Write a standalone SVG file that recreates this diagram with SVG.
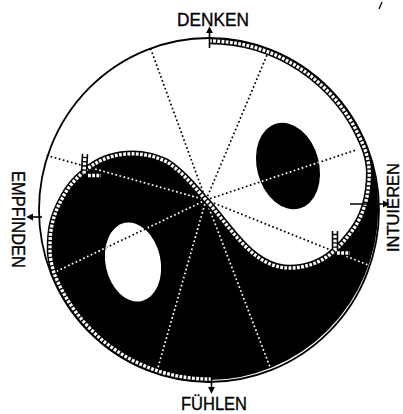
<svg xmlns="http://www.w3.org/2000/svg" xmlns:xlink="http://www.w3.org/1999/xlink" width="403" height="414" viewBox="0 0 403 414">
<style>
.lbl{font-family:"Liberation Sans","DejaVu Sans",sans-serif;font-size:18.5px;fill:#000;stroke:#000;stroke-width:0.35}
.dotb{stroke:#000;stroke-width:1.7;stroke-dasharray:1.7 2.5;fill:none}
.dotw{stroke:#fff;stroke-width:1.7;stroke-dasharray:1.7 2.5;fill:none}
.stripO{fill:none;stroke:#000;stroke-width:6.5}
.stripI{fill:none;stroke:#fff;stroke-width:3.4;stroke-dasharray:2.8 1.4}
.arr{stroke:#000;stroke-width:1.6;fill:none}
</style>
<defs>
<marker id="ah" viewBox="0 0 10 10" refX="2" refY="5" markerWidth="4.5" markerHeight="4.5" orient="auto" markerUnits="strokeWidth">
<path d="M0,0 L10,5 L0,10 Z" fill="#000"/>
</marker>
<path id="blackPath" d="M365.6,143 A170,172 0 1 1 50.8,273 L54,273 C52,266 50,258 50,250 C50,242 50,234 52,225 C54,215 58,206 63,197 C68,187 76,178 85,171 C95,162 110,155 127,154 C141,153 155,156 167,162 C181,171 193,185 205,199 C218,213 230,231 245,246 C258,259 272,268 290,268 C306,268 322,262 333,252 C340,246 346,239 352,231 C362,218 368,200 369,180 C370,168 368,155 362.3,143 Z"/>
<path id="spiral" d="M209,41 A167,169 0 0 1 362.3,143 C368,155 370,168 369,180 C368,200 362,218 352,231 C346,239 340,246 333,252 C322,262 306,268 290,268 C272,268 258,259 245,246 C230,231 218,213 205,199 C193,185 181,171 167,162 C155,156 141,153 127,154 C110,155 95,162 85,171 C76,178 68,187 63,197 C58,206 54,215 52,225 C50,234 50,242 50,250 C50,258 52,266 54,273 A167,169 0 0 0 211,379"/>
<path id="tabs" d="M85,154 L84,174 M88,175.5 L101,175.5 M335,231 L335,250 M337,253 L350,253"/>
<g id="rays">
<line x1="206" y1="200" x2="150" y2="47"/>
<line x1="206" y1="200" x2="267" y2="55"/>
<line x1="206" y1="200" x2="45" y2="155"/>
<line x1="206" y1="200" x2="356" y2="150"/>
<line x1="206" y1="200" x2="368" y2="265"/>
<line x1="206" y1="200" x2="53" y2="273"/>
<line x1="206" y1="200" x2="157" y2="371"/>
<line x1="206" y1="200" x2="270" y2="367"/>
</g>
<clipPath id="blackClip">
<path clip-rule="evenodd" d="M365.6,143 A170,172 0 1 1 50.8,273 L54,273 C52,266 50,258 50,250 C50,242 50,234 52,225 C54,215 58,206 63,197 C68,187 76,178 85,171 C95,162 110,155 127,154 C141,153 155,156 167,162 C181,171 193,185 205,199 C218,213 230,231 245,246 C258,259 272,268 290,268 C306,268 322,262 333,252 C340,246 346,239 352,231 C362,218 368,200 369,180 C370,168 368,155 362.3,143 Z M105.5,262 a27.5,40 0 1 0 55,0 a27.5,40 0 1 0 -55,0 Z"/>
<ellipse cx="288" cy="166" rx="31" ry="44" transform="rotate(-15 288 166)"/>
</clipPath>
</defs>
<rect width="403" height="414" fill="#fff"/>
<g id="yin-yang">
<use xlink:href="#blackPath" fill="#000"/>
<ellipse id="white-eye" cx="133" cy="262" rx="27.5" ry="40" transform="rotate(-12 133 262)" fill="#fff"/>
<ellipse id="black-eye" cx="288" cy="166" rx="31" ry="44" transform="rotate(-15 288 166)" fill="#000"/>
<ellipse id="outline" cx="209" cy="210" rx="170" ry="172" fill="none" stroke="#000" stroke-width="1.8"/>
</g>
<g id="connectors">
<use xlink:href="#rays" class="dotb"/>
<use xlink:href="#rays" class="dotw" clip-path="url(#blackClip)"/>
</g>
<g id="spiral-band">
<use xlink:href="#spiral" class="stripO"/>
<use xlink:href="#spiral" class="stripI"/>
<use xlink:href="#tabs" class="stripO" stroke-width="6"/>
<use xlink:href="#tabs" class="stripI"/>
</g>
<g id="denken">
<line class="arr" x1="209.5" y1="48" x2="209.5" y2="32" marker-end="url(#ah)"/>
<text class="lbl" x="177" y="25.5" textLength="72" lengthAdjust="spacingAndGlyphs">DENKEN</text>
</g>
<g id="fuehlen">
<line class="arr" x1="211.5" y1="377" x2="211.5" y2="388" marker-end="url(#ah)"/>
<text class="lbl" x="181" y="410" textLength="66" lengthAdjust="spacingAndGlyphs">FÜHLEN</text>
</g>
<g id="empfinden">
<line class="arr" x1="42" y1="217" x2="32" y2="217" marker-end="url(#ah)"/>
<text class="lbl" transform="translate(12,171) rotate(90)" x="0" y="0" textLength="97" lengthAdjust="spacingAndGlyphs">EMPFINDEN</text>
</g>
<g id="intuieren">
<line class="arr" x1="350" y1="204" x2="384" y2="204" marker-end="url(#ah)"/>
<text class="lbl" style="font-size:16.5px" transform="translate(399,252) rotate(-90)" x="0" y="0" textLength="89" lengthAdjust="spacingAndGlyphs">INTUIEREN</text>
</g>
<path id="stray-mark" d="M382,2 L379,9" stroke="#000" stroke-width="1.3" fill="none"/>
</svg>
